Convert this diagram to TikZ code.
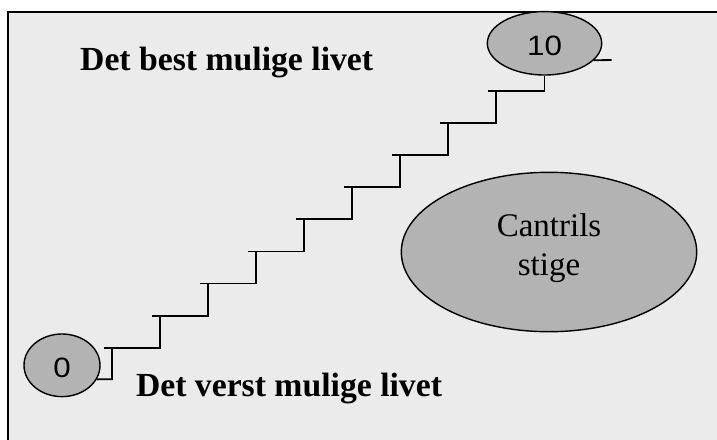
\documentclass[tikz,border=0pt]{standalone}
\usepackage{fontspec}
\usepackage{graphicx}
\setmainfont{Liberation Serif}
\newfontfamily\digitfont{Liberation Sans}
\usetikzlibrary{shapes.geometric}
\definecolor{panelgray}{HTML}{EBEBEB}
\definecolor{blobgray}{HTML}{B3B3B3}
% scale digits set a little wide and a little low in their ellipse
\newcommand{\widedigits}[1]{{\digitfont\fontsize{28}{30}\selectfont\raisebox{-2.5pt}[\height][0pt]{\scalebox{1.12}[1]{#1}}}}
\begin{document}
\begin{tikzpicture}[x=1pt,y=-1pt,
  blob/.style={ellipse, draw=black, line width=1.4pt, fill=blobgray, inner sep=0pt},
  caption/.style={font=\bfseries\fontsize{33.7}{38}\selectfont, anchor=base west, inner sep=0pt},
  stairline/.style={line width=1.8pt, line cap=butt, line join=miter}]
  \useasboundingbox (0,0) rectangle (717,439);
  \fill[white] (0,0) rectangle (717,439);
  % panel with its left and top border
  \fill[panelgray] (8,11.7) rectangle (720,442);
  \draw[line width=2pt] (720,11.7) -- (8,11.7) -- (8,442);

  % end points of the scale
  \node[blob, minimum width=76pt, minimum height=62.6pt] (zero) at (62,365.3) {\widedigits{0}};
  \node[blob, minimum width=114.4pt, minimum height=63.4pt] (ten) at (544.5,43.3) {\widedigits{10}};
  \coordinate (tenend) at (611.7,60);

  % title ellipse
  \node[blob, minimum width=295.4pt, minimum height=159.4pt, align=center,
        text depth=14.8pt, font=\fontsize{33}{38.3}\selectfont] (cantril) at (549,252) {Cantrils\\stige};

  % captions
  \node[caption] (best) at (80,70.7) {Det best mulige livet};
  \node[caption] (worst) at (135.8,396.7) {Det verst mulige livet};

  % the staircase from 0 up to 10
  \draw[stairline] (zero.-22) -- (112,379.3) -- (112,347.7);
  \foreach \k in {0,...,7} {
    \pgfmathsetmacro\ty{347.7-32.08*\k}
    \pgfmathsetmacro\tx{112+48*\k}
    \draw[stairline] (\tx-8,\ty) -- (\tx+48,\ty) -- (\tx+48,\ty-32.08);
  }
  \draw[stairline] (488,91.06) -- (544.5,91.06) -- (ten.south);
  \draw[stairline] (ten.-19) -- (tenend);
\end{tikzpicture}
\end{document}
